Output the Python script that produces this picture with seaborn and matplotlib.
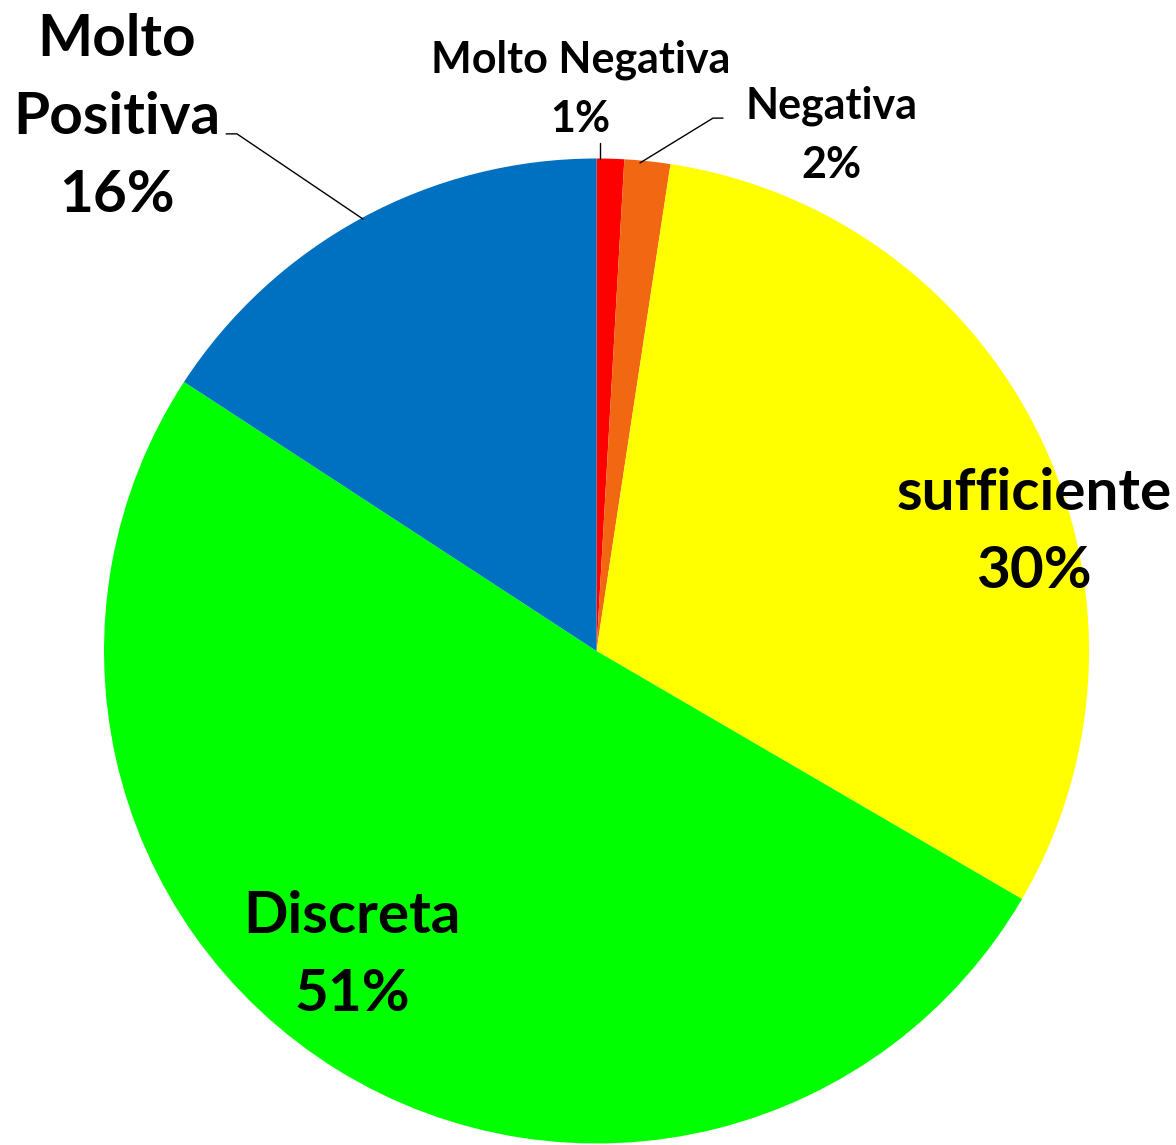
import matplotlib
matplotlib.use("Agg")
import matplotlib.pyplot as plt
import seaborn as sns

# ---- data ----
categories = ["Molto Negativa", "Negativa", "sufficiente", "Discreta", "Molto Positiva"]
values = [0.9, 1.5, 31.0, 50.8, 15.8]
pct_labels = ["1%", "2%", "30%", "51%", "16%"]
colors = ["#FF0000", "#F26711", "#FFFF00", "#00FF00", "#0070C0"]

sns.set_theme(style="white")
plt.rcParams["font.family"] = ["Lato", "DejaVu Sans"]

W, H, DPI = 1176, 1145, 100
fig = plt.figure(figsize=(W / DPI, H / DPI), dpi=DPI)
fig.patch.set_facecolor("white")

cx, cy, r = 596.5, 651.0, 492.5
ax = fig.add_axes([(cx - r) / W, (H - cy - r) / H, 2 * r / W, 2 * r / H])
ax.axis("off")

ax.pie(values, colors=colors, startangle=90, counterclock=False, radius=1,
       wedgeprops=dict(linewidth=0), frame=False)
ax.set_xlim(-1, 1)
ax.set_ylim(-1, 1)
ax.set_aspect("auto")

# label layout (data units, radius = 1)
label_pos = [(-0.032, 1.14), (0.478, 1.048), (0.888, 0.24), (-0.4965, -0.619), (-0.974, 1.084)]
label_size = [31, 31, 42, 42, 42]
label_text = ["Molto Negativa", "Negativa", "sufficiente", "Discreta", "Molto\nPositiva"]
for txt, pct, (x, y), fs in zip(label_text, pct_labels, label_pos, label_size):
    ax.text(x, y, f"{txt}\n{pct}", ha="center", va="center", fontsize=fs,
            fontweight="bold", color="black", linespacing=1.58,
            clip_on=False, multialignment="center")

# leader lines
leaders = [
    [(0.0071, 1.031), (0.0071, 0.999)],
    [(0.0883, 0.991), (0.2365, 1.082), (0.2569, 1.082)],
    [(-0.474, 0.877), (-0.730, 1.050), (-0.752, 1.050)],
]
for pts in leaders:
    xs, ys = zip(*pts)
    ax.plot(xs, ys, color="black", lw=1.0, clip_on=False)

fig.savefig("out.png", dpi=DPI, facecolor="white")
